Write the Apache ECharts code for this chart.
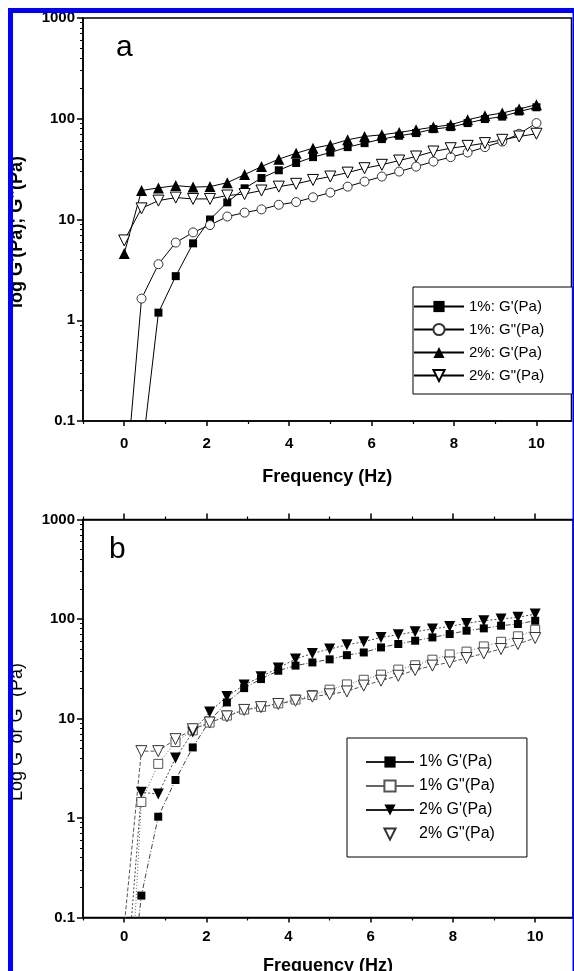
<!DOCTYPE html>
<html><head><meta charset="utf-8">
<script src="https://cdn.jsdelivr.net/npm/echarts@6/dist/echarts.min.js"></script>
<style>html,body{margin:0;padding:0;background:#fff}#c{width:574px;height:971px}</style>
</head><body><div id="c"></div>
<script>
// ---- data ----
const freq = [0, 0.42, 0.83, 1.25, 1.67, 2.08, 2.5, 2.92, 3.33, 3.75, 4.17, 4.58, 5, 5.42, 5.83, 6.25, 6.67, 7.08, 7.5, 7.92, 8.33, 8.75, 9.17, 9.58, 10];

// panel a
const a1Gp  = [null, 0.044, 1.19, 2.74, 5.8, 10, 14.8, 20.4, 25.8, 30.8, 36.4, 41.6, 46.2, 52.3, 57.3, 62.8, 67.8, 72.1, 78.9, 82.6, 90.6, 99.3, 105, 118, 130];
const a1Gpp = [0.017, 1.64, 3.6, 5.9, 7.45, 8.8, 10.7, 11.7, 12.6, 14.0, 14.9, 16.6, 18.5, 21.2, 23.8, 26.7, 29.9, 33.5, 37.6, 41.6, 46.2, 52.3, 59.4, 70.9, 90.6];
const a2Gp  = [4.6, 19.4, 20.6, 21.7, 21, 21.2, 23.2, 27.9, 33.5, 39.7, 45.5, 51, 55, 61.8, 66.7, 69.3, 73.1, 77.7, 82.6, 87.1, 97.7, 107, 114, 125, 138];
const a2Gpp = [6.2, 12.9, 15.4, 16.5, 16, 16, 17.3, 17.9, 19.4, 21.2, 22.6, 24.7, 26.7, 29.2, 32.3, 34.9, 38.5, 42.2, 47.3, 51, 53.8, 57.3, 61.8, 66.7, 71];

// panel b
const b1Gp  = [0.005, 0.166, 1.03, 2.41, 5.12, 9.5, 14.5, 20.2, 24.9, 30.2, 34, 36.6, 39.3, 43.3, 46.1, 51.8, 56.1, 60.5, 65.3, 70.6, 76.3, 80.5, 85.7, 89.1, 96.1];
const b1Gpp = [0.001, 1.45, 3.5, 5.8, 7.6, 9.1, 10.7, 12.3, 13.1, 14.2, 15.5, 17.2, 19.5, 22, 24.5, 27.6, 31, 34.3, 39, 44, 47, 53, 59, 67, 78];
const b2Gp  = [0.011, 1.81, 1.74, 4.0, 7.3, 11.6, 16.6, 21.7, 26.3, 32.2, 39.6, 45.1, 49.9, 55, 59.1, 65.3, 69.5, 74.5, 79.4, 84.3, 90.3, 96.1, 100, 104, 112];
const b2Gpp = [0.08, 4.7, 4.7, 6.2, 7.8, 9.1, 10.5, 12.2, 13, 14, 15.1, 16.6, 17.5, 18.7, 21.4, 24, 26.9, 30.7, 34, 36.6, 40.5, 45.1, 49.9, 56.1, 64.4];

// ticks
const xMajorTicks = [0, 2, 4, 6, 8, 10];
const xMinorTicks = [-1, 1, 3, 5, 7, 9];
const yMajorTicks = [0.1, 1, 10, 100, 1000];
const yMinorTicks = [0.2,0.3,0.4,0.5,0.6,0.7,0.8,0.9, 2,3,4,5,6,7,8,9, 20,30,40,50,60,70,80,90, 200,300,400,500,600,700,800,900];

// names
const namesA = ["1%: G'(Pa)", '1%: G"(Pa)', "2%: G'(Pa)", '2%: G"(Pa)'];
const namesB = ["1% G'(Pa)", '1% G"(Pa)', "2% G'(Pa)", '2% G"(Pa)'];
const xName = 'Frequency (Hz)';
const yNameA = 'log G\'(Pa); G"(Pa)';
const yNameB = 'Log G\' or G" (Pa)';

// ---- build ----
const FONT = '"Liberation Sans", Arial, sans-serif';
const pairs = arr => freq.map((f, i) => [f, arr[i]]);

function xAxes(grid, max, labelMargin, nameGap, top) {
  const common = { type: 'value', gridIndex: grid, min: -1, max: max, splitLine: { show: false } };
  const res = [
    Object.assign({}, common, {
      position: 'bottom',
      axisLine: { show: true, onZero: false, lineStyle: { color: '#000', width: 1.5 } },
      axisTick: { show: true, inside: false, length: 5, customValues: xMajorTicks, lineStyle: { color: '#000', width: 1.5 } },
      axisLabel: { show: true, customValues: xMajorTicks, margin: labelMargin, color: '#000', fontFamily: FONT, fontWeight: 'bold', fontSize: 15, formatter: v => String(v) },
      name: xName, nameLocation: 'middle', nameGap: nameGap,
      nameTextStyle: { color: '#000', fontFamily: FONT, fontWeight: 'bold', fontSize: 18 }
    }),
    Object.assign({}, common, {
      position: 'bottom',
      axisLine: { show: false, onZero: false },
      axisTick: { show: true, inside: false, length: 3, customValues: xMinorTicks, lineStyle: { color: '#000', width: 1.2 } },
      axisLabel: { show: false }
    })
  ];
  if (top) {
    res.push(Object.assign({}, common, {
      position: 'top',
      axisLine: { show: true, onZero: false, lineStyle: { color: '#000', width: 1.5 } },
      axisTick: { show: true, inside: false, length: 6, customValues: xMajorTicks, lineStyle: { color: '#000', width: 1.5 } },
      axisLabel: { show: false }
    }));
    res.push(Object.assign({}, common, {
      position: 'top',
      axisLine: { show: false, onZero: false },
      axisTick: { show: true, inside: false, length: 3, customValues: xMinorTicks, lineStyle: { color: '#000', width: 1.2 } },
      axisLabel: { show: false }
    }));
  }
  return res;
}

function yAxes(grid) {
  const common = { type: 'log', logBase: 10, gridIndex: grid, min: 0.1, max: 1000, splitLine: { show: false }, position: 'left' };
  return [
    Object.assign({}, common, {
      axisLine: { show: true, onZero: false, lineStyle: { color: '#000', width: 1.5 } },
      axisTick: { show: true, inside: false, length: 6, customValues: yMajorTicks, lineStyle: { color: '#000', width: 1.5 } },
      axisLabel: { show: true, customValues: yMajorTicks, margin: 8, color: '#000', fontFamily: FONT, fontWeight: 'bold', fontSize: 15, formatter: v => String(v) }
    }),
    Object.assign({}, common, {
      axisLine: { show: false, onZero: false },
      axisTick: { show: true, inside: false, length: 3, customValues: yMinorTicks, lineStyle: { color: '#000', width: 1 } },
      axisLabel: { show: false }
    })
  ];
}

const xs = [].concat(xAxes(0, 10.85, 15, 47, false), xAxes(1, 10.92, 12, 40, true));
const ys = [].concat(yAxes(0), yAxes(1));

function ser(name, data, xi, yi, opt) {
  return Object.assign({
    type: 'line', name: name, data: pairs(data), xAxisIndex: xi, yAxisIndex: yi,
    clip: true, connectNulls: false, animation: false, z: 3
  }, opt);
}

const series = [
  ser(namesA[0], a1Gp, 0, 0, { symbol: 'rect', symbolSize: 8, itemStyle: { color: '#000' }, lineStyle: { color: '#000', width: 1 } }),
  ser(namesA[1], a1Gpp, 0, 0, { symbol: 'circle', symbolSize: 9, itemStyle: { color: '#fff', borderColor: '#333', borderWidth: 1 }, lineStyle: { color: '#000', width: 1 } }),
  ser(namesA[2], a2Gp, 0, 0, { symbol: 'triangle', symbolSize: 11, itemStyle: { color: '#000' }, lineStyle: { color: '#000', width: 1 } }),
  ser(namesA[3], a2Gpp, 0, 0, { symbol: 'triangle', symbolRotate: 180, symbolSize: 11, itemStyle: { color: '#fff', borderColor: '#000', borderWidth: 1 }, lineStyle: { color: '#000', width: 1 } }),

  ser(namesB[0], b1Gp, 2, 2, { symbol: 'rect', symbolSize: 8, itemStyle: { color: '#000' }, lineStyle: { color: '#444', width: 1, type: [5, 2, 1, 2] } }),
  ser(namesB[1], b1Gpp, 2, 2, { symbol: 'rect', symbolSize: 9, itemStyle: { color: '#fff', borderColor: '#555', borderWidth: 1 }, lineStyle: { color: '#666', width: 1, type: [1, 2] } }),
  ser(namesB[2], b2Gp, 2, 2, { symbol: 'triangle', symbolRotate: 180, symbolSize: 11, itemStyle: { color: '#000' }, lineStyle: { color: '#444', width: 1, type: [2, 2] } }),
  ser(namesB[3], b2Gpp, 2, 2, { symbol: 'triangle', symbolRotate: 180, symbolSize: 11, itemStyle: { color: '#fff', borderColor: '#333', borderWidth: 1 }, lineStyle: { color: '#555', width: 1, type: [4, 2] } })
];

const option = {
  animation: false,
  backgroundColor: '#fff',
  grid: [
    { left: 83, top: 18, width: 488.5, height: 403, show: true, borderColor: '#000', borderWidth: 1.5, backgroundColor: 'transparent', outerBoundsMode: 'none', containLabel: false },
    { left: 83, top: 519.5, width: 490, height: 398, show: true, borderColor: '#000', borderWidth: 1.5, backgroundColor: 'transparent', outerBoundsMode: 'none', containLabel: false }
  ],
  xAxis: xs,
  yAxis: ys,
  legend: [
    {
      data: namesA.map(n => ({ name: n })),
      orient: 'vertical', left: 413, top: 287, padding: [12, 28, 11, 0],
      itemWidth: 50, itemHeight: 14, itemGap: 8, selectedMode: false,
      borderColor: '#000', borderWidth: 1, backgroundColor: '#fff',
      textStyle: { color: '#000', fontFamily: FONT, fontSize: 15 }
    },
    {
      data: namesB.map((n, i) => i < 3 ? { name: n, lineStyle: { type: 'solid', color: i === 1 ? '#666' : '#222' } } : { name: n, lineStyle: { opacity: 0, width: 0 } }),
      orient: 'vertical', left: 347, top: 738, padding: [16, 32, 15, 18],
      itemWidth: 48, itemHeight: 14, itemGap: 8, selectedMode: false,
      borderColor: '#000', borderWidth: 1, backgroundColor: '#fff',
      textStyle: { color: '#000', fontFamily: FONT, fontSize: 16 }
    }
  ],
  graphic: [
    { type: 'text', left: 116, top: 33, style: { text: 'a', font: '30px ' + FONT, fill: '#000' } },
    { type: 'text', left: 109, top: 535, style: { text: 'b', font: '30px ' + FONT, fill: '#000' } },
    { type: 'text', x: 17, y: 232, rotation: Math.PI / 2, style: { text: yNameA, font: 'bold 18px ' + FONT, fill: '#000', align: 'center', verticalAlign: 'middle' } },
    { type: 'text', x: 17, y: 732, rotation: Math.PI / 2, style: { text: yNameB, font: '18px ' + FONT, fill: '#000', align: 'center', verticalAlign: 'middle' } },
    { type: 'rect', shape: { x: 8, y: 8, width: 5, height: 963 }, style: { fill: '#0000ff' }, z: 100 },
    { type: 'rect', shape: { x: 8, y: 8, width: 566, height: 5 }, style: { fill: '#0000ff' }, z: 100 },
    { type: 'rect', shape: { x: 572.5, y: 8, width: 2, height: 963 }, style: { fill: '#0000ff' }, z: 100 }
  ],
  series: series
};

const chart = echarts.init(document.getElementById('c'), null, { renderer: 'canvas' });
chart.setOption(option);
</script>
</body></html>
